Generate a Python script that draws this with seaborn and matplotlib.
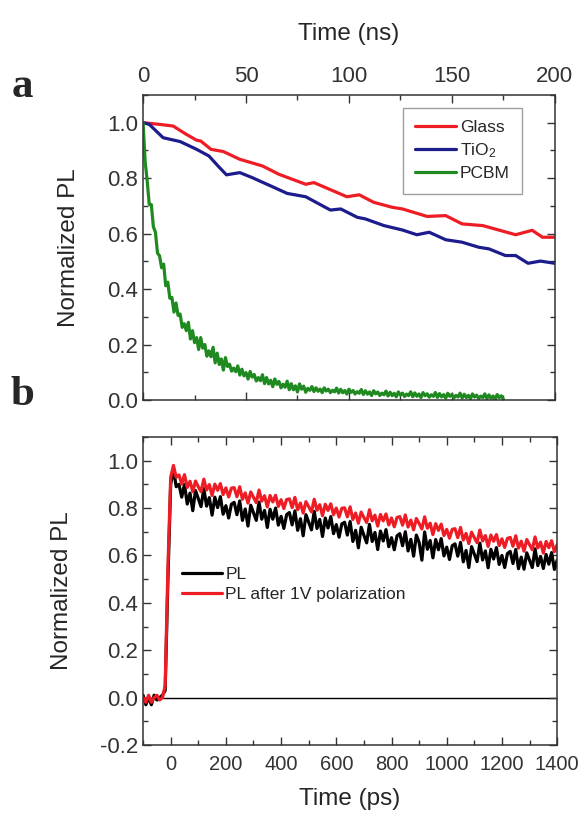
import numpy as np
import matplotlib
matplotlib.use("Agg")
import matplotlib.pyplot as plt
from matplotlib.ticker import MultipleLocator, FormatStrFormatter
import seaborn as sns

# ---- panel a data (time in ns) ----
glass_t = [0, 8, 14.6, 21, 26, 28, 33, 39, 47, 58, 66, 79, 83, 99, 105, 112, 121, 126,
           138, 147, 155, 165, 181, 189, 194, 200]
glass_pl = [1.0, 0.994, 0.988, 0.958, 0.937, 0.934, 0.904, 0.896, 0.868, 0.844, 0.814,
            0.778, 0.784, 0.733, 0.740, 0.713, 0.695, 0.689, 0.662, 0.665, 0.635, 0.629,
            0.596, 0.612, 0.587, 0.587]

tio2_t = [0, 3, 9.7, 18, 26, 32, 36.4, 40.5, 47, 53, 62, 70, 79, 91, 96, 104, 108, 117,
          126, 133, 139, 147, 155, 163, 168, 176, 181, 187, 193, 200]
tio2_pl = [1.0, 0.994, 0.946, 0.932, 0.904, 0.880, 0.844, 0.812, 0.820, 0.802, 0.772,
           0.745, 0.733, 0.685, 0.689, 0.659, 0.653, 0.629, 0.613, 0.596, 0.605, 0.578,
           0.569, 0.551, 0.545, 0.521, 0.521, 0.493, 0.501, 0.493]

pcbm_t = np.arange(0, 176, 1)
pcbm_pl = [
    1.00, 0.86, 0.79, 0.705, 0.705, 0.625, 0.605, 0.53, 0.52, 0.477,
    0.49, 0.412, 0.425, 0.367, 0.37, 0.317, 0.35, 0.305, 0.31, 0.262,
    0.275, 0.25, 0.28, 0.22, 0.25, 0.207, 0.225, 0.182, 0.225, 0.187,
    0.20, 0.158, 0.177, 0.156, 0.19, 0.134, 0.169, 0.128, 0.148, 0.108,
    0.153, 0.121, 0.129, 0.104, 0.115, 0.102, 0.123, 0.09, 0.111, 0.087,
    0.099, 0.0755, 0.103, 0.0825, 0.092, 0.0685, 0.081, 0.0695, 0.091, 0.059,
    0.081, 0.058, 0.071, 0.048, 0.076, 0.0565, 0.067, 0.044, 0.057, 0.046,
    0.068, 0.037, 0.059, 0.037, 0.051, 0.029, 0.058, 0.039, 0.05, 0.028,
    0.042, 0.035, 0.0485, 0.0305, 0.044, 0.0315, 0.0395, 0.0265, 0.044, 0.0325,
    0.039, 0.0266, 0.0352, 0.0293, 0.0429, 0.025, 0.0386, 0.0262, 0.0343, 0.0214,
    0.039, 0.0276, 0.0341, 0.0217, 0.0302, 0.0243, 0.0378, 0.0199, 0.0334, 0.021,
    0.029, 0.0161, 0.0336, 0.0222, 0.0287, 0.0163, 0.0248, 0.0189, 0.0324, 0.0145,
    0.028, 0.0158, 0.0241, 0.0114, 0.0292, 0.018, 0.0248, 0.0126, 0.0214, 0.0157,
    0.0295, 0.0118, 0.0256, 0.0134, 0.0217, 0.009, 0.0268, 0.0156, 0.0224, 0.0102,
    0.019, 0.0133, 0.0271, 0.0094, 0.0232, 0.011, 0.0193, 0.0066, 0.0244, 0.0132,
    0.02, 0.0078, 0.0166, 0.0109, 0.0247, 0.007, 0.0208, 0.0086, 0.0169, 0.0042,
    0.022, 0.0108, 0.0176, 0.0054, 0.0142, 0.0085, 0.0223, 0.0046, 0.0184, 0.0062,
    0.0145, 0.0018, 0.0196, 0.0084, 0.0152, 0.003,
]

# ---- panel b data (time in ps) ----
b_t = np.arange(-100, 1401, 10)
pl = [
    0.01, -0.03, 0.00, -0.03, 0.01, -0.01, 0.00, 0.01, 0.03, 0.50,
    0.90, 0.965, 0.89, 0.90, 0.846, 0.90, 0.817, 0.863, 0.789, 0.874,
    0.84, 0.806, 0.882, 0.808, 0.844, 0.77, 0.846, 0.802, 0.848, 0.774,
    0.81, 0.758, 0.816, 0.824, 0.772, 0.83, 0.748, 0.796, 0.724, 0.812,
    0.78, 0.748, 0.825, 0.753, 0.79, 0.718, 0.795, 0.753, 0.80, 0.728,
    0.765, 0.714, 0.772, 0.781, 0.729, 0.788, 0.706, 0.755, 0.683, 0.772,
    0.74, 0.708, 0.786, 0.714, 0.752, 0.68, 0.758, 0.716, 0.764, 0.692,
    0.73, 0.677, 0.733, 0.74, 0.686, 0.743, 0.659, 0.706, 0.632, 0.719,
    0.685, 0.653, 0.731, 0.659, 0.697, 0.625, 0.703, 0.661, 0.709, 0.637,
    0.675, 0.624, 0.683, 0.692, 0.641, 0.70, 0.619, 0.668, 0.597, 0.686,
    0.655, 0.58, 0.699, 0.626, 0.663, 0.59, 0.667, 0.624, 0.671, 0.598,
    0.635, 0.583, 0.641, 0.649, 0.597, 0.655, 0.573, 0.621, 0.549, 0.637,
    0.605, 0.574, 0.652, 0.581, 0.619, 0.548, 0.626, 0.585, 0.633, 0.562,
    0.60, 0.549, 0.608, 0.617, 0.566, 0.625, 0.544, 0.593, 0.542, 0.611,
    0.58, 0.549, 0.628, 0.557, 0.596, 0.545, 0.604, 0.563, 0.612, 0.541,
    0.58,
]
pl_after = [
    0.00, -0.02, 0.01, -0.02, 0.00, 0.01, -0.01, 0.00, 0.05, 0.55,
    0.93, 0.98, 0.93, 0.94, 0.901, 0.941, 0.887, 0.913, 0.869, 0.914,
    0.89, 0.869, 0.922, 0.876, 0.899, 0.853, 0.901, 0.875, 0.903, 0.857,
    0.885, 0.847, 0.884, 0.886, 0.848, 0.89, 0.837, 0.864, 0.821, 0.868,
    0.845, 0.823, 0.876, 0.829, 0.852, 0.805, 0.853, 0.826, 0.854, 0.807,
    0.835, 0.798, 0.836, 0.839, 0.802, 0.845, 0.793, 0.821, 0.779, 0.827,
    0.805, 0.784, 0.837, 0.791, 0.814, 0.768, 0.816, 0.79, 0.818, 0.772,
    0.80, 0.762, 0.799, 0.801, 0.763, 0.805, 0.752, 0.779, 0.736, 0.783,
    0.76, 0.739, 0.793, 0.746, 0.77, 0.724, 0.773, 0.746, 0.775, 0.729,
    0.758, 0.721, 0.76, 0.764, 0.728, 0.771, 0.72, 0.749, 0.708, 0.756,
    0.735, 0.712, 0.763, 0.715, 0.736, 0.688, 0.734, 0.706, 0.732, 0.684,
    0.71, 0.673, 0.71, 0.713, 0.675, 0.718, 0.665, 0.693, 0.65, 0.698,
    0.675, 0.654, 0.707, 0.661, 0.684, 0.638, 0.686, 0.66, 0.688, 0.642,
    0.67, 0.634, 0.672, 0.676, 0.639, 0.683, 0.631, 0.66, 0.618, 0.667,
    0.645, 0.624, 0.678, 0.632, 0.656, 0.61, 0.659, 0.633, 0.662, 0.616,
    0.645,
]

sns.set_style("ticks")
plt.rcParams["font.family"] = ["Liberation Sans", "DejaVu Sans"]
plt.rcParams["mathtext.fontset"] = "custom"
plt.rcParams["mathtext.rm"] = "Liberation Sans"
plt.rcParams["mathtext.it"] = "Liberation Sans:italic"
plt.rcParams["axes.edgecolor"] = "#333333"
plt.rcParams["xtick.color"] = "#333333"
plt.rcParams["ytick.color"] = "#333333"

fig = plt.figure(figsize=(5.84, 8.16), dpi=100)
ax_a = fig.add_axes([0.245, 0.5098, 0.705, 0.3738])
ax_b = fig.add_axes([0.245, 0.087, 0.709, 0.3775])

lw = 2.3
red = "#ee1c24"
sns.lineplot(x=glass_t, y=glass_pl, ax=ax_a, color=red, lw=lw, label="Glass")
sns.lineplot(x=tio2_t, y=tio2_pl, ax=ax_a, color="#1c1c8c", lw=lw, label="TiO$_2$")
sns.lineplot(x=pcbm_t, y=pcbm_pl, ax=ax_a, color="#1f8a1f", lw=lw, label="PCBM")

ax_a.set_xlim(0, 200)
ax_a.set_ylim(0, 1.1)
ax_a.xaxis.set_major_locator(MultipleLocator(50))
ax_a.xaxis.set_minor_locator(MultipleLocator(25))
ax_a.yaxis.set_major_locator(MultipleLocator(0.2))
ax_a.yaxis.set_minor_locator(MultipleLocator(0.1))
ax_a.yaxis.set_major_formatter(FormatStrFormatter("%.1f"))
ax_a.tick_params(which="both", direction="in", top=True, right=True,
                 labeltop=True, labelbottom=False, labelsize=16)
ax_a.tick_params(axis="x", pad=6)
ax_a.tick_params(which="major", length=6, width=1)
ax_a.tick_params(which="minor", length=3.5, width=1)
ax_a.xaxis.set_label_position("top")
ax_a.set_xlabel("Time (ns)", fontsize=17.5, labelpad=18.5)
ax_a.set_ylabel("Normalized PL", fontsize=17.5, labelpad=19.5)
leg = ax_a.legend(loc="upper right", bbox_to_anchor=(0.92, 0.957), borderaxespad=0,
                  fontsize=12.5, frameon=True, fancybox=False, handlelength=2.4,
                  handletextpad=0.2, labelspacing=0.35, borderpad=0.7)
leg.get_frame().set_edgecolor("#888888")
leg.get_frame().set_linewidth(1)

sns.lineplot(x=b_t, y=pl, ax=ax_b, color="black", lw=lw, label="PL")
sns.lineplot(x=b_t, y=pl_after, ax=ax_b, color=red, lw=lw,
             label="PL after 1V polarization")
ax_b.axhline(0, color="black", lw=1, zorder=0)

ax_b.set_xlim(-100, 1400)
ax_b.set_ylim(-0.2, 1.1)
ax_b.xaxis.set_major_locator(MultipleLocator(200))
ax_b.xaxis.set_minor_locator(MultipleLocator(100))
ax_b.yaxis.set_major_locator(MultipleLocator(0.2))
ax_b.yaxis.set_minor_locator(MultipleLocator(0.1))
ax_b.yaxis.set_major_formatter(FormatStrFormatter("%.1f"))
ax_b.tick_params(which="both", direction="in", top=True, right=True)
ax_b.tick_params(axis="y", labelsize=16)
ax_b.tick_params(axis="x", labelsize=14.5, pad=7)
ax_b.tick_params(which="major", length=6, width=1)
ax_b.tick_params(which="minor", length=3.5, width=1)
ax_b.set_xlabel("Time (ps)", fontsize=17.5, labelpad=10)
ax_b.set_ylabel("Normalized PL", fontsize=17.5, labelpad=19.5)
ax_b.legend(loc="upper left", bbox_to_anchor=(0.094, 0.578), borderaxespad=0,
            borderpad=0, fontsize=12.5, frameon=False, handlelength=2.3,
            handletextpad=0.2, labelspacing=0.25)

for ax in (ax_a, ax_b):
    for s in ax.spines.values():
        s.set_linewidth(1.1)

fig.text(0.039, 0.881, "a", fontsize=31, fontweight="bold", family="Liberation Serif",
         ha="center", va="baseline")
fig.text(0.039, 0.5037, "b", fontsize=31, fontweight="bold", family="Liberation Serif",
         ha="center", va="baseline")

fig.savefig("out.png", dpi=100, facecolor="white")
